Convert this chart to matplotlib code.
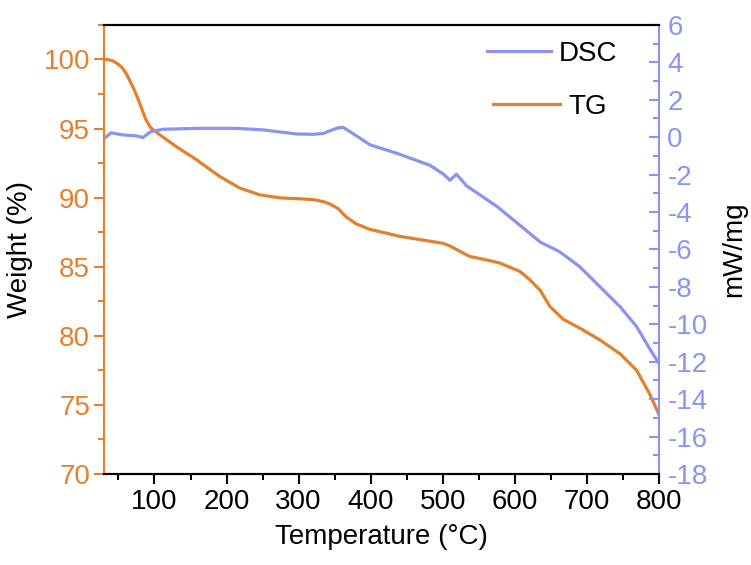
import matplotlib
matplotlib.use('Agg')
import matplotlib.pyplot as plt
from matplotlib.ticker import MultipleLocator

plt.rcParams['font.family'] = ['Liberation Sans', 'DejaVu Sans']
plt.rcParams['axes.unicode_minus'] = False

# TG curve (weight %)
tg_temp = [30, 36, 42, 48, 55, 60, 65, 72, 79, 84, 88, 95, 107, 130, 158, 190,
           218, 246, 274, 300, 320, 335, 343, 355, 366, 380, 399, 420, 440, 470,
           500, 510, 537, 560, 579, 607, 620, 635, 649, 667, 690, 718, 746, 769,
           787, 800]
tg_weight = [100.0, 99.98, 99.9, 99.72, 99.4, 99.05, 98.55, 97.8, 96.9, 96.2,
             95.65, 95.05, 94.56, 93.7, 92.75, 91.55, 90.7, 90.2, 89.98, 89.92,
             89.86, 89.7, 89.55, 89.2, 88.6, 88.1, 87.7, 87.45, 87.2, 86.95,
             86.7, 86.5, 85.75, 85.5, 85.27, 84.66, 84.1, 83.3, 82.1, 81.2,
             80.56, 79.7, 78.7, 77.5, 75.8, 74.3]

# DSC curve (mW/mg)
dsc_temp = [30, 40, 56, 75, 84, 95, 112, 158, 213, 250, 297, 320, 334, 347, 355,
            362, 371, 385, 399, 436, 482, 500, 510, 519, 533, 575, 610, 635, 662,
            690, 718, 746, 769, 787, 800]
dsc_value = [-0.07, 0.23, 0.12, 0.07, -0.02, 0.3, 0.42, 0.47, 0.47, 0.39, 0.17,
             0.15, 0.2, 0.39, 0.5, 0.52, 0.3, -0.05, -0.41, -0.86, -1.5, -1.95,
             -2.3, -1.98, -2.6, -3.7, -4.8, -5.6, -6.12, -6.92, -7.99, -9.06,
             -10.13, -11.3, -12.1]

orange = '#E2802F'
blue = '#8A94F0'

fig = plt.figure(figsize=(7.51, 5.65), dpi=100)
ax = fig.add_axes([0.1385, 0.161, 0.739, 0.795])
ax2 = ax.twinx()

ax.plot(tg_temp, tg_weight, color=orange, lw=2.3)
ax2.plot(dsc_temp, dsc_value, color=blue, lw=2.3)

ax.set_xlim(30, 800)
ax.set_ylim(70, 102.5)
ax2.set_ylim(-18, 6)

ax.xaxis.set_major_locator(MultipleLocator(100))
ax.xaxis.set_minor_locator(MultipleLocator(50))
ax.yaxis.set_major_locator(MultipleLocator(5))
ax.yaxis.set_minor_locator(MultipleLocator(2.5))
ax2.yaxis.set_major_locator(MultipleLocator(2))
ax2.yaxis.set_minor_locator(MultipleLocator(1))

for s in ax.spines.values():
    s.set_linewidth(1.5)
for s in ax2.spines.values():
    s.set_linewidth(1.5)
ax.spines['left'].set_color(orange)
ax2.spines['left'].set_color(orange)
ax2.spines['right'].set_color(blue)
ax.spines['right'].set_visible(False)

ax.tick_params(axis='x', which='major', direction='out', length=7, width=1.5,
               labelsize=20, pad=4)
ax.tick_params(axis='x', which='minor', direction='out', length=4, width=1.5)
ax.tick_params(axis='y', which='major', direction='out', length=7, width=1.5,
               color=orange, labelcolor=orange, labelsize=20, pad=3)
ax.tick_params(axis='y', which='minor', direction='out', length=4, width=1.5,
               color=orange)
ax2.tick_params(axis='y', which='major', direction='in', length=7, width=1.5,
                color=blue, labelcolor=blue, labelsize=20, pad=6)
ax2.tick_params(axis='y', which='minor', direction='in', length=4, width=1.5,
                color=blue)

ax.set_xlabel('Temperature (°C)', fontsize=20, labelpad=6)
ax.set_ylabel('Weight (%)', fontsize=20, labelpad=8)
ax2.set_ylabel('mW/mg', fontsize=20, labelpad=10)

h_dsc, = ax2.plot([], [], color=blue, lw=2.3)
h_tg, = ax.plot([], [], color=orange, lw=2.3)
leg1 = fig.legend([h_dsc], ['DSC'], loc='center left',
                  bbox_to_anchor=(0.6485, 0.9044), frameon=False, fontsize=20,
                  borderpad=0, borderaxespad=0, handlelength=2.3,
                  handletextpad=0.3)
leg2 = fig.legend([h_tg], ['TG'], loc='center left',
                  bbox_to_anchor=(0.6565, 0.8106), frameon=False, fontsize=20,
                  borderpad=0, borderaxespad=0, handlelength=2.4,
                  handletextpad=0.3)

fig.savefig('out.png', dpi=100)
